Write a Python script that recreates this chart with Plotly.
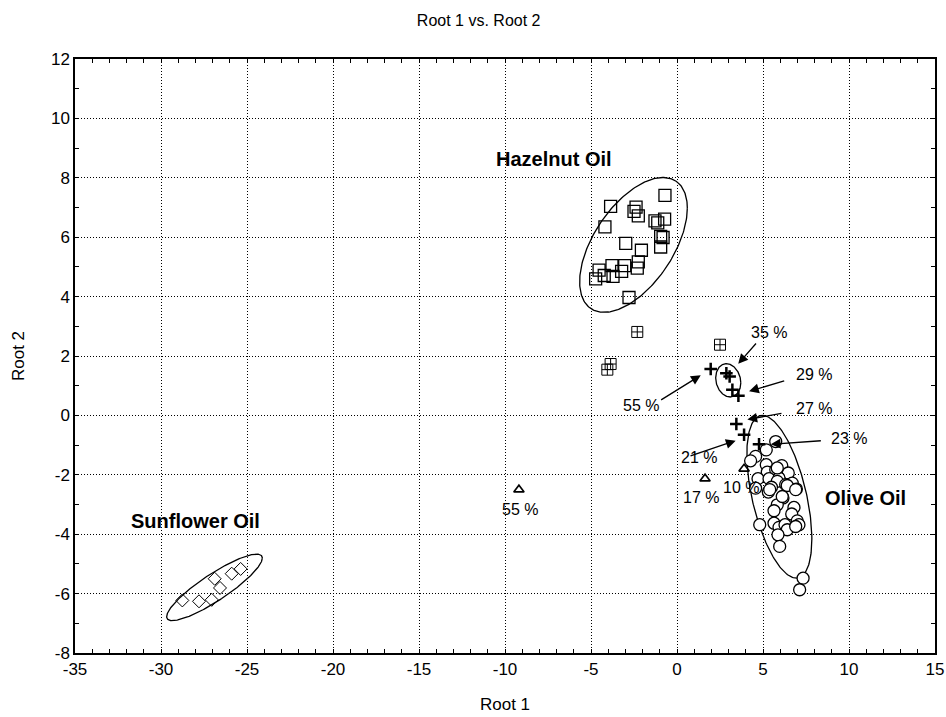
import numpy as np
import plotly.graph_objects as go

# ---- data ----
hazel_x = [-0.70, -3.86, -2.38, -2.50, -2.25, -0.72, -1.28, -1.12, -4.19, -0.95, -0.81, -2.98,
           -2.07, -0.95, -2.25, -2.31, -4.53, -3.78, -3.04, -3.22, -4.23, -3.72, -4.73, -2.79]
hazel_y = [7.41, 7.04, 7.01, 6.87, 6.72, 6.61, 6.55, 6.48, 6.35, 6.03, 5.99, 5.79,
           5.56, 5.67, 5.17, 4.96, 4.89, 5.04, 5.04, 4.85, 4.71, 4.68, 4.60, 3.97]

sun_x = [-28.76, -27.79, -27.05, -26.88, -26.57, -25.89, -25.37]
sun_y = [-6.23, -6.26, -6.21, -5.50, -5.81, -5.33, -5.17]

olive_x = [5.74, 5.19, 4.57, 4.28, 5.19, 6.09, 5.25, 5.74, 6.47, 4.71, 5.35, 5.93, 5.83, 6.32,
           6.70, 6.94, 5.49, 5.31, 4.57, 6.16, 5.83, 5.64, 6.80, 6.67, 4.81, 5.64, 5.93, 6.28,
           6.41, 6.99, 7.09, 6.90, 5.87, 5.97, 7.33, 7.13, 5.83, 6.41, 6.90, 5.39, 6.12]
olive_y = [-0.88, -1.16, -1.38, -1.53, -1.66, -1.69, -1.91, -1.83, -1.94, -2.13, -2.13, -2.11,
           -2.22, -2.33, -2.28, -2.48, -2.42, -2.58, -2.45, -2.78, -3.01, -3.21, -3.10, -3.32,
           -3.68, -3.63, -3.77, -3.68, -3.85, -3.55, -3.68, -3.74, -4.02, -4.41, -5.48, -5.87,
           -1.77, -2.36, -2.50, -2.50, -2.73]

boxplus_x = [-2.31, 2.50, -3.86, -4.05]
boxplus_y = [2.81, 2.38, 1.73, 1.54]

cross_x = [1.96, 2.87, 3.06, 3.22, 3.57, 3.45, 3.90, 4.77]
cross_y = [1.56, 1.42, 1.31, 0.86, 0.66, -0.29, -0.65, -0.97]

tri_x = [-9.19, 1.63, 3.90]
tri_y = [-2.50, -2.13, -1.80]

# ellipses: name, centre x, centre y, half x-extent, half y-extent, correlation
ell_names = ["hazel", "sun", "blend", "olive"]
ell_cx = [-2.53, -26.89, 2.98, 5.95]
ell_cy = [5.74, -5.79, 1.18, -2.74]
ell_hx = [3.13, 2.78, 0.73, 1.89]
ell_hy = [2.27, 1.12, 0.56, 2.74]
ell_rho = [0.546, 0.88, -0.15, -0.52]

# percentage labels: text, x, y
pct_text = ["55 %", "35 %", "29 %", "27 %", "23 %", "21 %", "55 %", "17 %", "10 %"]
pct_x = [-2.09, 5.35, 7.97, 7.97, 10.0, 1.28, -9.13, 1.40, 3.72]
pct_y = [0.34, 2.79, 1.38, 0.24, -0.77, -1.41, -3.16, -2.76, -2.42]

# arrows: tip x, tip y, tail x, tail y
arr_tip_x = [1.38, 3.56, 4.19, 4.09, 5.45, 3.41]
arr_tip_y = [1.35, 1.74, 0.81, -0.14, -0.97, -0.85]
arr_tail_x = [-1.01, 4.67, 6.32, 6.16, 8.45, 0.70]
arr_tail_y = [0.49, 2.47, 1.18, 0.08, -0.85, -1.38]

group_text = ["Hazelnut Oil", "Sunflower Oil", "Olive Oil"]
group_x = [-7.15, -28.0, 10.93]
group_y = [8.62, -3.57, -2.79]

x_ticks = [-35, -30, -25, -20, -15, -10, -5, 0, 5, 10, 15]
y_ticks = [-8, -6, -4, -2, 0, 2, 4, 6, 8, 10, 12]

FONT = "Liberation Sans, Arial, Helvetica, sans-serif"
fig = go.Figure()

t = np.linspace(0, 2 * np.pi, 240)
for i in range(len(ell_names)):
    d = np.arccos(ell_rho[i])
    fig.add_trace(go.Scatter(
        x=ell_cx[i] + ell_hx[i] * np.cos(t),
        y=ell_cy[i] + ell_hy[i] * np.cos(t + d),
        mode="lines", line=dict(color="black", width=1.3),
        hoverinfo="skip", showlegend=False))

mk_line = dict(color="black", width=1.3)
fig.add_trace(go.Scatter(x=hazel_x, y=hazel_y, mode="markers", showlegend=False,
                         marker=dict(symbol="square-open", size=12, color="black", line=mk_line)))
fig.add_trace(go.Scatter(x=sun_x, y=sun_y, mode="markers", showlegend=False,
                         marker=dict(symbol="diamond-open", size=10, color="black", line=dict(color="black", width=1))))
fig.add_trace(go.Scatter(x=olive_x, y=olive_y, mode="markers", showlegend=False,
                         marker=dict(symbol="circle", size=12, color="white", line=mk_line)))
fig.add_trace(go.Scatter(x=boxplus_x, y=boxplus_y, mode="markers", showlegend=False,
                         marker=dict(symbol="square-cross-open", size=11, color="black", line=dict(color="black", width=1))))
fig.add_trace(go.Scatter(x=cross_x, y=cross_y, mode="markers", showlegend=False,
                         marker=dict(symbol="cross-thin", size=9, color="black", line=dict(color="black", width=2.5))))
fig.add_trace(go.Scatter(x=tri_x, y=tri_y, mode="markers", showlegend=False,
                         marker=dict(symbol="triangle-up-open", size=9, color="black", line=dict(color="black", width=1.6))))

for i in range(len(arr_tip_x)):
    fig.add_annotation(x=arr_tip_x[i], y=arr_tip_y[i], ax=arr_tail_x[i], ay=arr_tail_y[i],
                       xref="x", yref="y", axref="x", ayref="y", text="",
                       showarrow=True, arrowhead=2, arrowsize=1.5, arrowwidth=1.3,
                       arrowcolor="black", standoff=0)
for i in range(len(pct_text)):
    fig.add_annotation(x=pct_x[i], y=pct_y[i], text=pct_text[i], showarrow=False,
                       font=dict(family=FONT, size=16, color="black"))
for i in range(len(group_text)):
    fig.add_annotation(x=group_x[i], y=group_y[i], text="<b>" + group_text[i] + "</b>",
                       showarrow=False, font=dict(family=FONT, size=20, color="black"))

axis_common = dict(showline=True, linecolor="black", linewidth=1.5, mirror="allticks",
                   ticks="inside", ticklen=4, tickcolor="black", ticklabeloverflow="allow",
                   showgrid=True, gridcolor="black", gridwidth=1, griddash="1px,2px",
                   zeroline=False, tickfont=dict(family=FONT, size=17, color="black"),
                   minor=dict(ticks="inside", ticklen=4, tickcolor="black", dtick=1, showgrid=False))

fig.update_xaxes(range=[-35, 15], tickvals=x_ticks, ticktext=[str(v) for v in x_ticks],
                 title=dict(text="Root 1", font=dict(family=FONT, size=17, color="black"), standoff=20),
                 **axis_common)
fig.update_yaxes(range=[-8, 12], tickvals=y_ticks, ticktext=[str(v) for v in y_ticks],
                 title=dict(text="Root 2", font=dict(family=FONT, size=17, color="black"), standoff=22),
                 **axis_common)

fig.update_layout(
    width=946, height=717,
    margin=dict(l=75, r=11, t=59, b=64, autoexpand=False),
    plot_bgcolor="white", paper_bgcolor="white",
    hovermode=False,
    title=dict(text="Root 1 vs. Root 2", x=0.506, xanchor="center", y=0.972, yanchor="middle",
               font=dict(family=FONT, size=16, color="black")),
)

fig.write_html("out.html",
               config={"displayModeBar": False},
               post_script="document.body.style.margin='0';"
                           "document.documentElement.style.overflow='hidden';"
                           "document.body.style.overflow='hidden';")
